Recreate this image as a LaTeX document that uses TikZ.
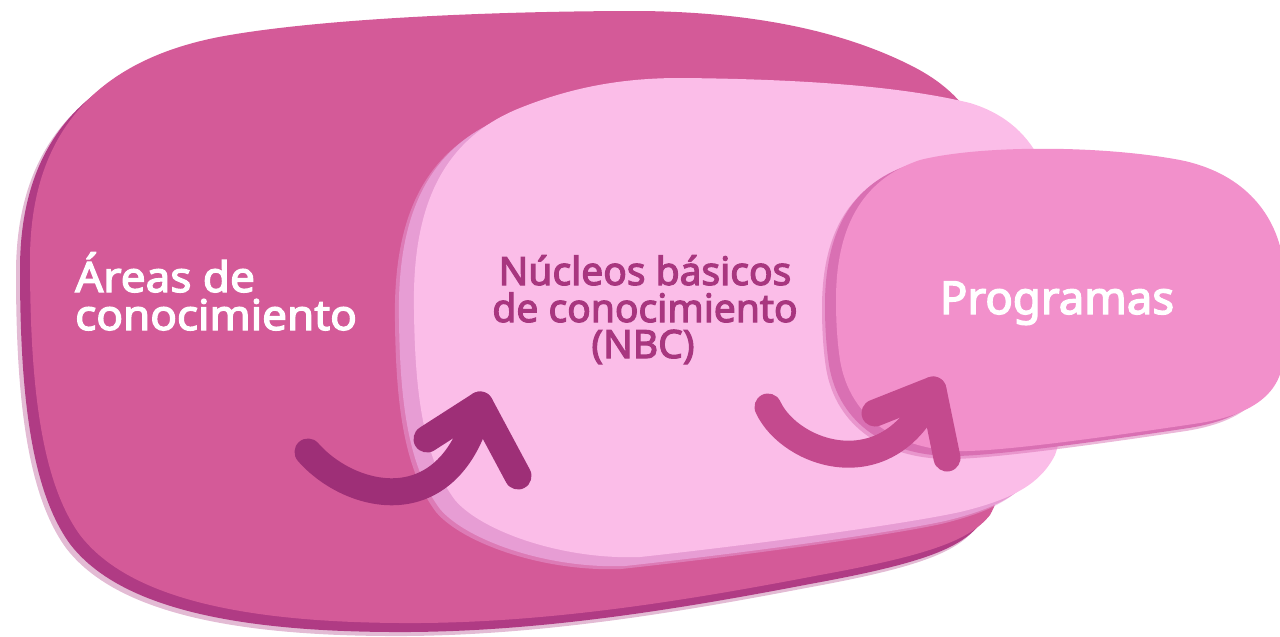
\documentclass[tikz,border=0pt]{standalone}
\usepackage{fontspec}
\setmainfont{Noto Sans}[UprightFeatures={FakeBold=3}]
\usepackage{graphicx}
\definecolor{bigmain}{HTML}{D45A98}
\definecolor{bigshadow}{HTML}{B03B84}
\definecolor{nbcmain}{HTML}{FBBDE8}
\definecolor{nbcshadow}{HTML}{E79DD4}
\definecolor{progmain}{HTML}{F290CB}
\definecolor{progshadow}{HTML}{D970B3}
\definecolor{nbctext}{HTML}{A8367F}
\definecolor{arrowone}{HTML}{9E2F77}
\definecolor{arrowtwo}{HTML}{C44A8E}
\newcommand\bigblob[1]{\fill[#1] (30,260) .. controls (30,150) and (80,60) .. (230,35)
 .. controls (330,18) and (500,11) .. (640,11)
 .. controls (750,12) and (840,30) .. (910,65)
 .. controls (960,90) and (1000,130) .. (1010,250)
 .. controls (1015,400) and (1010,480) .. (990,515)
 .. controls (970,540) and (930,555) .. (820,575)
 .. controls (700,598) and (560,622) .. (420,623)
 .. controls (250,624) and (130,600) .. (80,535)
 .. controls (40,480) and (30,380) .. (30,260) -- cycle;}
\newcommand\nbcblob[1]{\fill[#1] (414,310) .. controls (412,210) and (440,140) .. (520,108)
 .. controls (570,88) and (620,78) .. (680,78)
 .. controls (800,79) and (900,86) .. (970,103)
 .. controls (1000,112) and (1025,130) .. (1040,160)
 .. controls (1070,220) and (1075,400) .. (1055,455)
 .. controls (1040,485) and (1010,500) .. (960,512)
 .. controls (900,525) and (750,545) .. (640,557)
 .. controls (560,560) and (480,530) .. (455,500)
 .. controls (425,460) and (415,400) .. (414,310) -- cycle;}
\newcommand\progblob[1]{\fill[#1] (836,300) .. controls (836,230) and (860,180) .. (920,160)
 .. controls (980,145) and (1100,145) .. (1180,160)
 .. controls (1240,172) and (1275,210) .. (1283,260) -- (1283,360)
 .. controls (1280,395) and (1250,415) .. (1200,423)
 .. controls (1120,435) and (1000,452) .. (960,451)
 .. controls (900,450) and (850,420) .. (840,360)
 .. controls (837,340) and (836,320) .. (836,300) -- cycle;}
\tikzset{
  arrowline/.style={line width=27pt, line cap=round, line join=round},
  bigtext/.style={text=white, font=\fontsize{42}{42}\selectfont, inner sep=0pt},
  nbclabel/.style={text=nbctext, font=\fontsize{39}{39}\selectfont, inner sep=0pt,
    text height=0.74em, text depth=0.02em},
  proglabel/.style={text=white, font=\fontsize{45.5}{45.5}\selectfont, inner sep=0pt}
}
\begin{document}
\begin{tikzpicture}[x=1pt,y=-1pt]
\useasboundingbox (0,0) rectangle (1280,637);
% big blob
\bigblob{bigshadow, opacity=0.35, shift={(-14,13)}}
\bigblob{bigshadow, shift={(-10,9)}}
\bigblob{bigmain}
% NBC blob
\nbcblob{nbcshadow, opacity=0.5, shift={(-19,12)}}
\nbcblob{nbcshadow, shift={(-15,9)}}
\nbcblob{nbcmain}
% Programas blob
\progblob{progshadow, opacity=0.5, shift={(-14,8)}}
\progblob{progshadow, shift={(-11,5)}}
\progblob{progmain}
% texts
\node[bigtext, anchor=base west] (a1) at (75,292) {\scalebox{1.05}[1]{Áreas de}};
\node[bigtext, anchor=base west] (a2) at (75,330) {\scalebox{1.05}[1]{conocimiento}};
\node[nbclabel, anchor=base] (n1) at (645,285) {Núcleos básicos};
\node[nbclabel, anchor=base] (n2) at (645,322) {de conocimiento};
\node[nbclabel, anchor=base, text depth=0.2em] (n3) at (643,358) {(NBC)};
\node[proglabel, anchor=base] (p1) at (1057,314) {Programas};
% arrow 1
\coordinate (t1) at (308,452);
\coordinate (h1) at (480,405);
\coordinate (l1) at (427,439);
\coordinate (r1) at (518,476);
\draw[arrowone, arrowline] (t1) .. controls (350,500) and (450,525) .. (h1);
\draw[arrowone, arrowline] (l1) -- (h1) -- (r1);
% arrow 2
\coordinate (t2) at (768,407);
\coordinate (h2) at (933,390);
\coordinate (l2) at (875,413);
\coordinate (r2) at (947,458);
\draw[arrowtwo, arrowline] (t2) .. controls (790,455) and (890,490) .. (h2);
\draw[arrowtwo, arrowline] (l2) -- (h2) -- (r2);
\end{tikzpicture}
\end{document}
